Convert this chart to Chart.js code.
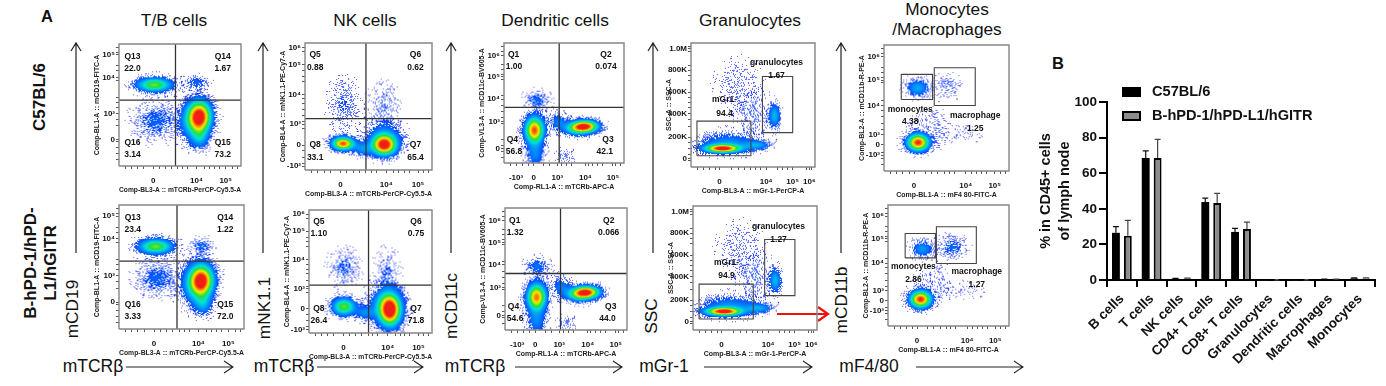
<!DOCTYPE html>
<html><head><meta charset="utf-8">
<script src="https://cdn.jsdelivr.net/npm/chart.js@4"></script>
<style>
html,body{margin:0;padding:0;background:#fff;width:1386px;height:386px;overflow:hidden;font-family:"Liberation Sans",Arial,sans-serif}
canvas{position:absolute}
canvas.flow{filter:blur(.35px)}
.t{position:absolute;white-space:nowrap;color:#111;line-height:1;transform:translate(-50%,-50%)}
.b{font-weight:bold}
.r{transform:translate(-50%,-50%) rotate(-90deg)}
svg{position:absolute;left:0;top:0}
</style></head><body>
<svg width="1386" height="386" id="arrows"></svg>
<script>
// ---------- Panel B ----------
const categories=["B cells","T cells","NK cells","CD4+ T cells","CD8+ T cells","Granulocytes","Dendritic cells","Macrophages","Monocytes"];
const seriesNames=["C57BL/6","B-hPD-1/hPD-L1/hGITR"];
const wtValues=[26.5,68.5,0.7,43.8,27,0.05,0.05,0.4,0.9];
const tgValues=[24.8,68.5,0.8,43.3,28.7,0.05,0.05,0.4,0.9];
const wtUpper=[30,72.5,0.9,46,29,0.07,0.07,0.5,1.2];
const tgUpper=[33.5,79,1,48.7,32.5,0.07,0.07,0.5,1.2];
const barTicks=[0,20,40,60,80,100];

// ---------- Panel A: axes in percent of the displayed biexponential range ----------
const tbX=[[28,"0"],[63.5,"10⁴"],[87.5,"10⁵"]], tbY=[[91,"10⁵"],[72.6,"10⁴"],[43,"10³"],[21.6,"0"]];
const nkX=[[28,"0"],[64,"10⁴"],[89,"10⁵"]], nkY=[[96.6,"10⁶"],[82.7,"10⁵"],[59.4,"10⁴"],[36,"10³"],[19.6,"0"],[3,"-10³"]];
const dcX=[[10,"-10³"],[24.7,"0"],[44.4,"10³"],[67.8,"10⁴"],[90.8,"10⁵"]], dcY=[[89.4,"10⁶"],[71.7,"10⁵"],[53.3,"10⁴"],[34.7,"10³"],[12,"0"]];
const grX=[[23,"0"],[60.6,"10⁴"],[82,"10⁵"],[95.4,"10⁶"]], grY=[[95.4,"1.0M"],[78,"800K"],[60.4,"600K"],[43,"400K"],[24,"200K"],[7,"0"]];
const moX=[[24,"0"],[65.4,"10⁴"],[88.6,"10⁵"]], moY=[[90.7,"10⁶"],[72,"10⁵"],[52,"10⁴"],[29,"10³"],[21,"0"],[12.5,"-10³"]];
const minorTicks=[5,10,15,20,33,38,43,48,52,56,70,74,78,82,93,97];

// Populations: [x, y, spreadX, spreadY, relative density]
const tbTop=[[28.6,67,9,3.6,.62],[63,69,6,3.5,.14],[30,37,11,9,.14],[66,41,6,8,1],[60,37,6.5,10,.3],[66,24,4.5,6,.25]];
const tbBot=[[29,67,8.5,3.8,.62],[66,67.6,5,4,.14],[30,41,10,8,.14],[66,39.6,6,8,1],[60,36,6.5,10,.3],[67,21,4.5,6,.25]];
const nkTop=[[29.6,21.2,5.5,3.2,.95],[62,20,6,5,1],[30,52,7,12,.09],[62,50,7,11,.08],[45,17,5,3.5,.22],[62,26,8.5,7,.22]];
const nkBot=[[28,21.8,6,4.5,.6],[65.5,19,5.5,8,1],[62,23,8,9,.32],[28,54,7,8,.11],[63,50,6,10,.09],[45,17,5,3.5,.2]];
const dcTop=[[25,27.8,5,7,.95],[67.2,31,7,3.2,.95],[60,29,7,3.5,.4],[27,52.8,6,4.5,.14],[25.5,8,5,7,.2],[45,34.7,5,4.5,.18],[50,6,5,4,.07]];
const dcBot=[[25.5,27.4,5,7,.9],[66.3,31.5,7,3.2,.95],[60,29,7,3.5,.4],[26,52.6,6,4.5,.16],[25.5,8,5,7,.2],[46,36,5,5,.18],[50,6,5,4,.07]];
const grTop=[[25,15.3,9,2.1,1],[29,20,14,5,.22],[53,18,7,2.3,.25],[67,41.7,3,6,.3],[37,67,11,13,.05],[50,43,8,11,.07]];
const grBot=[[24.3,15.3,9,2.1,1],[29,20,14,5,.22],[53,18,7,2.3,.25],[66,40.3,3,6,.3],[37,67,11,13,.05],[50,43,8,11,.07]];
const moTop=[[26.9,23,5.5,4.2,1],[26.6,66.3,5.5,4.2,.28],[50,67.4,7,5.5,.08],[28,37,7,7,.03],[63,30,10,4.5,.04],[42,35,4.5,9,.05]];
const moBot=[[26.6,22.5,5.5,4.4,1],[28,64,5.5,4.2,.24],[52.6,65.4,7,5.5,.14],[28,37,7,7,.03],[63,30,10,4.5,.04],[42,35,4.5,9,.05]];

// Gate lines: quadrant cross [x, y], or rectangles [x0, y0, x1, y1]
const tbTopCross=[46.3,54],tbBotCross=[46.4,54.8],nkTopCross=[48,40.5],nkBotCross=[48.4,39],dcTopCross=[46,46.3],dcBotCross=[45.5,46.3];
const grTopGates=[[4.8,9.1,48.3,37],[57.6,27.7,82,73]],grBotGates=[[4.9,8.9,48.6,37],[57.8,27.7,82.2,73]];
const moTopGates=[[13.8,56.8,38.8,76.7],[40.2,52,73,82]],moBotGates=[[14.2,56.3,39.2,76.4],[40,51.6,73,82]];

// Printed labels: [x, y, text]
const tbTopText=[[11,90,"Q13"],[11,80,"22.0"],[85,90,"Q14"],[85,80,"1.67"],[11,19,"Q16"],[11,9,"3.14"],[85,19,"Q15"],[85,9,"73.2"]];
const tbBotText=[[11,90,"Q13"],[11,80,"23.4"],[85,90,"Q14"],[85,80,"1.22"],[11,20,"Q16"],[11,10,"3.33"],[85,20,"Q15"],[85,10,"72.0"]];
const nkTopText=[[8,90.6,"Q5"],[8,80.6,"0.88"],[87,90.6,"Q6"],[87,80.6,"0.62"],[8,20,"Q8"],[8,10,"33.1"],[87,20,"Q7"],[87,10,"65.4"]];
const nkBotText=[[8,90.6,"Q5"],[8,80.6,"1.10"],[87,90.6,"Q6"],[87,80.6,"0.75"],[8,20,"Q8"],[8,10,"26.4"],[87,20,"Q7"],[87,10,"71.8"]];
const dcTopText=[[8,90,"Q1"],[8.3,80,"1.00"],[85,90,"Q2"],[85,80,"0.074"],[7,19.4,"Q4"],[8.3,9.5,"56.8"],[86.7,19.4,"Q3"],[84,9.5,"42.1"]];
const dcBotText=[[8,90,"Q1"],[8.3,80,"1.32"],[85,90,"Q2"],[85,80,"0.066"],[7,19.4,"Q4"],[8.3,9.5,"54.6"],[86.7,19.4,"Q3"],[84,9.5,"44.0"]];
const grTopText=[[69,84,"granulocytes"],[69,73.6,"1.67"],[27,54,"mGr1-"],[27,43.4,"94.4"]];
const grBotText=[[69,83,"granulocytes"],[69,73,"1.27"],[27,54,"mGr1-"],[27,44,"94.9"]];
const moTopText=[[21,49,"monocytes"],[21,39,"4.38"],[73,44,"macrophage"],[73,34,"1.25"]];
const moBotText=[[21,49,"monocytes"],[21,38.5,"2.86"],[73.4,44.6,"macrophage"],[73.4,34,"1.27"]];

const xTitleTCR="Comp-BL3-A :: mTCRb-PerCP-Cy5.5-A";

const panels=[
 {box:[119,44,241,166],blobs:tbTop,cross:tbTopCross,text:tbTopText,xt:tbX,yt:tbY,xTitle:xTitleTCR,yTitle:"Comp-BL1-A :: mCD19-FITC-A"},
 {box:[119,205,244,329],blobs:tbBot,cross:tbBotCross,text:tbBotText,xt:tbX,yt:tbY,xTitle:xTitleTCR,yTitle:"Comp-BL1-A :: mCD19-FITC-A"},
 {box:[305,43,432,170],blobs:nkTop,cross:nkTopCross,text:nkTopText,xt:nkX,yt:nkY,xTitle:xTitleTCR,yTitle:"Comp-BL4-A :: mNK1.1-PE-Cy7-A"},
 {box:[309,210,432,333],blobs:nkBot,cross:nkBotCross,text:nkBotText,xt:nkX,yt:nkY,xTitle:xTitleTCR,yTitle:"Comp-BL4-A :: mNK1.1-PE-Cy7-A"},
 {box:[504,43,624,163],blobs:dcTop,cross:dcTopCross,text:dcTopText,xt:dcX,yt:dcY,xTitle:"Comp-RL1-A :: mTCRb-APC-A",yTitle:"Comp-VL3-A :: mCD11c-BV605-A"},
 {box:[505,208,627,330],blobs:dcBot,cross:dcBotCross,text:dcBotText,xt:dcX,yt:dcY,xTitle:"Comp-RL1-A :: mTCRb-APC-A",yTitle:"Comp-VL3-A :: mCD11c-BV605-A"},
 {box:[691,43,815,167],blobs:grTop,gates:grTopGates,text:grTopText,xt:grX,yt:grY,xTitle:"Comp-BL3-A :: mGr-1-PerCP-A",yTitle:"SSC-A :: SSC-A"},
 {box:[693,206,817,330],blobs:grBot,gates:grBotGates,text:grBotText,xt:grX,yt:grY,xTitle:"Comp-BL3-A :: mGr-1-PerCP-A",yTitle:"SSC-A :: SSC-A"},
 {box:[884,45,1009,171],blobs:moTop,gates:moTopGates,text:moTopText,xt:moX,yt:moY,xTitle:"Comp-BL1-A :: mF4 80-FITC-A",yTitle:"Comp-BL2-A :: mCD11b-R-PE-A"},
 {box:[888,205,1009,326],blobs:moBot,gates:moBotGates,text:moBotText,xt:moX,yt:moY,xTitle:"Comp-BL1-A :: mF4 80-FITC-A",yTitle:"Comp-BL2-A :: mCD11b-R-PE-A"}
];

// ---------- static page text ----------
const pageText=[
 ["A",47,16,16.5,1,0],["B",1058,63,16.5,1,0],
 ["T/B cells",174,21,17.3,0,0],["NK cells",365,21,17.3,0,0],["Dendritic cells",555,21,17.3,0,0],["Granulocytes",750,21,17.3,0,0],
 ["Monocytes",947,10,17.3,0,0],["/Macrophages",947,30,17.3,0,0],
 ["C57BL/6",39,97,17,1,1],["B-hPD-1/hPD-",30,263,17,1,1],["L1/hGITR",50,263,17,1,1],
 ["mCD19",73,309,17.3,0,1],["mNK1.1",265,308,17.3,0,1],["mCD11c",452,306,17.3,0,1],["SSC",652,316,17.3,0,1],["mCD11b",842,300,17.3,0,1],
 ["mTCRβ",93,367,17.5,0,0],["mTCRβ",284,367,17.5,0,0],["mTCRβ",475,367,17.5,0,0],["mGr-1",664,367,17.5,0,0],["mF4/80",869,367,17.5,0,0]
];
pageText.forEach(([s,x,y,f,b,r])=>{const d=document.createElement('div');d.className='t'+(b?' b':'')+(r?' r':'');d.textContent=s;d.style.left=x+'px';d.style.top=y+'px';d.style.fontSize=f+'px';document.body.appendChild(d);});

const vArrows=[76,263,451,653,841], hArrows=[[126,233],[317,423],[515,622],[704,812],[916,1023]];
let svg='';
vArrows.forEach(x=>{svg+=`<path d="M${x} 253V43M${x-5} 51L${x} 43L${x+5} 51" fill="none" stroke="#222" stroke-width="1.2"/>`;});
hArrows.forEach(([a,b])=>{svg+=`<path d="M${a} 367H${b}M${b-9} 361L${b} 367L${b-9} 373" fill="none" stroke="#222" stroke-width="1.1"/>`;});
svg+=`<path d="M777 314H826M818 307L828 314L818 321" fill="none" stroke="#f01010" stroke-width="2.2"/>`;
document.getElementById('arrows').innerHTML=svg;

// ---------- density rendering of a population (sprite placed at its point) ----------
const cmap=[[0,20,20,255],[.2,0,130,255],[.4,0,230,210],[.55,40,220,60],[.75,240,240,0],[.88,255,130,0],[1,240,30,20]];
function jet(t){t=Math.min(1,t);for(let i=1;i<cmap.length;i++){if(t<=cmap[i][0]){const a=cmap[i-1],b=cmap[i],f=(t-a[0])/(b[0]-a[0]);return[0,1,2].map(k=>a[k+1]+(b[k+1]-a[k+1])*f);}}return cmap[6].slice(1);}
function fract(v){return v-Math.floor(v);}
function sprite(blobs,i,chart){
 const ca=chart.chartArea,ux=ca.width/100,uy=ca.height/100,b=blobs[i];
 const w=Math.ceil(b[2]*4.5*ux)*2,h=Math.ceil(b[3]*4.5*uy)*2;
 const c=document.createElement('canvas');c.width=w;c.height=h;
 const g=c.getContext('2d'),img=g.createImageData(w,h);
 const ox=Math.round(b[0]*ux-w/2),oy=Math.round(-b[1]*uy-h/2);
 for(let py=0;py<h;py++)for(let px=0;px<w;px++){
  const u=b[0]+(px-w/2)/ux,v=b[1]-(py-h/2)/uy;
  let tot=0,mx=-1,own=0;
  blobs.forEach((q,k)=>{const dx=(u-q[0])/q[2],dy=(v-q[1])/q[3],d=q[4]*Math.exp(-(dx*dx+dy*dy)/2);tot+=d;if(d>mx)mx=d;if(k===i)own=d;});
  if(own<mx*.6||tot<.007)continue;
  const ax=ox+px,ay=oy+py;
  const dith=fract(Math.sin(ax*12.9898+ay*78.233)*43758.5453);
  if(dith>Math.min(1,Math.pow(tot/.15,1.15)))continue;
  const col=jet(tot),o=(py*w+px)*4;
  img.data[o]=col[0];img.data[o+1]=col[1];img.data[o+2]=col[2];img.data[o+3]=tot<.08?180:255;
 }
 g.putImageData(img,0,0);return c;
}

// ---------- flow panels ----------
const LINE='#333',FRAME='#858585',TICK='#444';
const rect=r=>[{x:r[0],y:r[1]},{x:r[2],y:r[1]},{x:r[2],y:r[3]},{x:r[0],y:r[3]},{x:r[0],y:r[1]}];
function lineDs(data,color,width){return{type:'scatter',data,showLine:true,borderColor:color,borderWidth:width,pointRadius:0,clip:false,fill:false};}
function axisTicks(major){const m=major.map(t=>t[0]);return m.concat(minorTicks.filter(v=>!m.some(k=>Math.abs(k-v)<1.5)));}
panels.forEach(p=>{
 const [x0,y0,x1,y1]=p.box,LW=26,PT=8,PR=8,XH=28;
 const cv=document.createElement('canvas');cv.className='flow';cv.width=x1-x0+LW+PR;cv.height=y1-y0+PT+XH;
 cv.style.left=(x0-LW)+'px';cv.style.top=(y0-PT)+'px';cv.style.width=cv.width+'px';cv.style.height=cv.height+'px';
 document.body.appendChild(cv);
 const ds=[];
 ds.push(lineDs(rect([0,0,100,100]),FRAME,1.4));
 if(p.cross){ds.push(lineDs([{x:p.cross[0],y:0},{x:p.cross[0],y:100}],LINE,1.3));ds.push(lineDs([{x:0,y:p.cross[1]},{x:100,y:p.cross[1]}],LINE,1.3));}
 if(p.gates)p.gates.forEach(g=>ds.push(lineDs(rect(g),'#444',1.1)));
 const cache={};
 ds.push({type:'scatter',data:p.blobs.map(b=>({x:b[0],y:b[1]})),showLine:false,
   pointRadius:1,pointBorderWidth:0,
   pointStyle:ctx=>{const i=ctx.dataIndex,ch=ctx.chart;if(i===undefined||!ch.chartArea)return'circle';return cache[i]||(cache[i]=sprite(p.blobs,i,ch));}});
 const notes={id:'notes',afterDatasetsDraw(ch){const g=ch.ctx;g.save();g.font='bold 8.5px "Liberation Sans"';g.fillStyle='#111';g.textAlign='center';g.textBaseline='middle';
   p.text.forEach(t=>g.fillText(t[2],ch.scales.x.getPixelForValue(t[0]),ch.scales.y.getPixelForValue(t[1])));g.restore();}};
 const scale=(tk,title,axis)=>({type:'linear',min:0,max:100,
   afterBuildTicks:a=>{a.ticks=axisTicks(tk).map(v=>({value:v}));},
   afterFit:s=>{if(axis==='x')s.height=XH;else s.width=LW;},
   grid:{drawOnChartArea:false,drawTicks:true,tickLength:3,color:TICK,lineWidth:.9},border:{display:false},
   ticks:{autoSkip:false,maxRotation:0,minRotation:0,padding:axis==='x'?7:1,color:'#111',font:{family:'"Liberation Sans"',weight:'bold',size:8},
     callback:v=>{const f=tk.find(t=>t[0]===v);return f?f[1]:'';}},
   title:{display:true,text:title,color:'#222',padding:0,font:{family:'"Liberation Sans"',weight:'bold',size:7}}});
 new Chart(cv,{type:'scatter',data:{datasets:ds},plugins:[notes],options:{responsive:false,animation:false,devicePixelRatio:1,
   layout:{padding:{top:PT,right:PR,left:0,bottom:0}},plugins:{legend:{display:false},tooltip:{enabled:false}},
   scales:{x:scale(p.xt,p.xTitle,'x'),y:scale(p.yt,p.yTitle,'y')}}});
});

// ---------- bar chart ----------
const bc=document.createElement('canvas');bc.width=350;bc.height=301;bc.style.cssText='left:1036px;top:85px;width:350px;height:301px';document.body.appendChild(bc);
const errorBars={id:'errorBars',beforeDatasetsDraw(ch){const g=ch.ctx,ys=ch.scales.y;g.save();
 [[wtUpper,wtValues,'#111'],[tgUpper,tgValues,'#444']].forEach(([up,val,col],d)=>{
  ch.getDatasetMeta(d).data.forEach((el,i)=>{const a=ys.getPixelForValue(val[i]),b=ys.getPixelForValue(up[i]);
   g.strokeStyle=col;g.lineWidth=1.2;g.beginPath();g.moveTo(el.x,a);g.lineTo(el.x,b);g.moveTo(el.x-3,b);g.lineTo(el.x+3,b);g.stroke();});});
 g.restore();}};
const legendBoxes={id:'legendBoxes',afterDraw(ch){const g=ch.ctx,ox=bc.offsetLeft,oy=bc.offsetTop;g.save();g.textBaseline='middle';g.textAlign='left';g.font='bold 14.6px "Liberation Sans"';
 g.fillStyle='#000';g.fillRect(1122-ox,87-oy,19,10);g.fillStyle='#111';g.fillText(seriesNames[0],1152-ox,92-oy);
 g.fillStyle='#000';g.fillRect(1122-ox,111-oy,19,10);g.fillStyle='#8c8c8c';g.fillRect(1124-ox,113-oy,15,6);g.fillStyle='#111';g.fillText(seriesNames[1],1152-ox,116-oy);
 g.restore();}};
new Chart(bc,{type:'bar',data:{labels:categories,datasets:[
  {label:seriesNames[0],data:wtValues,backgroundColor:'#000',borderColor:'#000',borderWidth:0},
  {label:seriesNames[1],data:tgValues,backgroundColor:'#8c8c8c',borderColor:'#000',borderWidth:2}]},
 plugins:[errorBars,legendBoxes],
 options:{responsive:false,animation:false,devicePixelRatio:1,layout:{padding:{top:17,right:11,left:0,bottom:0}},
  datasets:{bar:{categoryPercentage:.8,barPercentage:.66}},
  plugins:{legend:{display:false},tooltip:{enabled:false}},
  scales:{
   x:{afterFit:s=>{s.height=106;},grid:{drawOnChartArea:false,tickLength:7,color:'#000',lineWidth:2},border:{color:'#000',width:2},
      ticks:{autoSkip:false,minRotation:45,maxRotation:45,padding:4,color:'#111',font:{family:'"Liberation Sans"',weight:'bold',size:13.5}}},
   y:{min:0,max:100,afterFit:s=>{s.width=71;},afterBuildTicks:a=>{a.ticks=barTicks.map(v=>({value:v}));},
      grid:{drawOnChartArea:false,tickLength:8,color:'#000',lineWidth:2},border:{color:'#000',width:2},
      ticks:{padding:2,color:'#111',font:{family:'"Liberation Sans"',weight:'bold',size:13.5}},
      title:{display:true,text:["% in CD45+ cells","of lymph node"],color:'#111',padding:0,font:{family:'"Liberation Sans"',weight:'bold',size:14.5,lineHeight:1.35}}}
  }}});
</script>
</body></html>
